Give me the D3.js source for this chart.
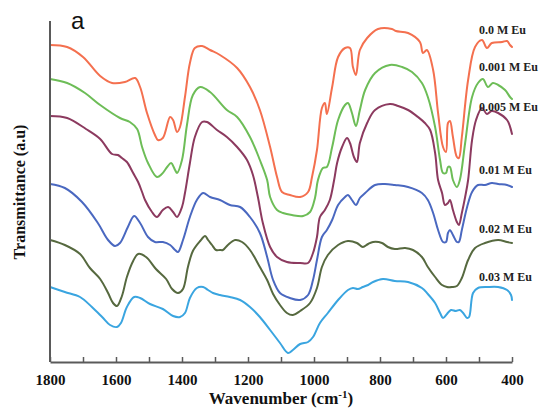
<!DOCTYPE html>
<html>
<head>
<meta charset="utf-8">
<script src="https://cdn.jsdelivr.net/npm/d3@7"></script>
<style>
html,body{margin:0;padding:0;background:#fff;}
svg{display:block;}
</style>
</head>
<body>
<svg id="chart" width="541" height="408"></svg>
<script>
// ---- data (wavenumber cm^-1, transmittance a.u.) ----
const xTicks = [1800, 1600, 1400, 1200, 1000, 800, 600, 400];
const seriesNames = ["0.0 M Eu", "0.001 M Eu", "0.005 M Eu", "0.01 M Eu", "0.02 M Eu", "0.03 M Eu"];
const seriesColors = ["#f4704f", "#6dbd57", "#8c3a5f", "#4a68c0", "#56693f", "#3aa5e0"];

const eu000 = [[1800,317],[1748,315],[1700,305],[1648,286],[1612,279],[1573,280],[1542,284],[1527,275],[1506,249],[1482,227],[1473,222],[1458,224],[1436,245],[1427,242],[1415,230],[1406,235],[1391,265],[1376,299],[1361,314],[1339,316],[1315,312],[1285,307],[1233,294],[1194,275],[1164,252],[1133,215],[1112,185],[1097,170],[1073,167],[1042,165],[1018,170],[1006,185],[991,212],[976,254],[967,259],[961,248],[945,275],[927,305],[906,314],[891,314],[882,295],[873,287],[861,312],[839,324],[806,333],[764,333],[752,331],[715,329],[679,320],[670,309],[658,312],[639,292],[624,249],[609,215],[600,210],[594,239],[588,241],[579,225],[567,205],[561,204],[552,225],[533,282],[512,315],[491,322],[476,314],[461,319],[430,320],[415,321],[406,317],[400,315]];
const eu001 = [[1800,283],[1748,279],[1694,269],[1648,257],[1588,244],[1558,240],[1536,233],[1521,215],[1503,199],[1476,185],[1461,188],[1445,195],[1433,199],[1421,192],[1415,189],[1400,202],[1385,237],[1367,267],[1345,275],[1315,270],[1264,252],[1233,245],[1194,225],[1164,202],[1142,182],[1133,165],[1112,152],[1094,149],[1067,147],[1033,146],[1012,150],[997,164],[988,182],[973,194],[961,195],[945,215],[927,242],[906,257],[897,259],[885,249],[873,236],[861,252],[845,272],[815,289],[770,297],[733,295],[703,290],[673,279],[655,265],[633,235],[618,202],[609,189],[600,189],[594,195],[588,195],[579,182],[567,175],[558,182],[542,219],[521,265],[503,279],[488,283],[473,275],[458,279],[442,277],[421,272],[406,265],[400,263]];
const eu005 = [[1800,246],[1748,244],[1691,233],[1648,223],[1612,208],[1594,207],[1582,204],[1567,200],[1548,189],[1533,180],[1521,170],[1512,162],[1491,150],[1476,145],[1458,152],[1442,155],[1427,150],[1415,145],[1400,155],[1391,169],[1376,199],[1361,225],[1339,240],[1324,240],[1294,232],[1264,225],[1233,215],[1203,202],[1185,187],[1170,165],[1155,139],[1133,115],[1112,105],[1082,100],[1042,99],[1018,99],[1003,109],[991,125],[982,145],[967,152],[952,162],[939,182],[930,199],[915,215],[900,224],[891,219],[879,205],[870,200],[861,219],[839,239],[815,252],[770,258],[745,256],[715,252],[685,245],[664,239],[648,232],[633,209],[624,182],[612,169],[603,157],[594,159],[588,162],[579,152],[567,140],[561,137],[552,149],[542,165],[533,182],[521,222],[509,242],[491,254],[476,248],[461,251],[442,249],[415,242],[400,228]];
const eu010 = [[1800,178],[1755,174],[1703,160],[1655,139],[1624,122],[1603,116],[1588,119],[1564,135],[1545,146],[1527,139],[1503,125],[1482,120],[1458,120],[1436,117],[1421,112],[1412,110],[1397,122],[1376,145],[1355,162],[1336,169],[1315,165],[1285,162],[1255,157],[1224,155],[1194,145],[1164,129],[1142,105],[1124,82],[1103,69],[1073,64],[1042,62],[1018,67],[1003,82],[991,102],[976,125],[961,132],[945,142],[927,157],[906,165],[897,167],[885,162],[873,157],[861,164],[845,169],[815,177],[785,178],[755,177],[715,175],[673,169],[655,162],[639,149],[624,132],[609,120],[600,120],[594,129],[588,132],[579,127],[567,120],[561,120],[552,132],[536,155],[521,170],[503,177],[482,177],[461,179],[442,178],[415,177],[400,175]];
const eu020 = [[1800,122],[1755,117],[1709,108],[1679,94],[1648,83],[1624,69],[1609,59],[1597,56],[1582,66],[1567,85],[1548,101],[1533,108],[1509,105],[1479,93],[1448,83],[1430,73],[1412,69],[1397,73],[1382,95],[1367,111],[1345,121],[1330,126],[1321,122],[1309,117],[1297,112],[1285,112],[1276,112],[1261,117],[1239,122],[1218,120],[1194,112],[1164,95],[1142,82],[1124,68],[1103,57],[1082,49],[1064,47],[1042,51],[1012,59],[991,74],[976,95],[958,107],[927,117],[897,121],[870,119],[852,115],[836,118],[821,120],[794,119],[776,115],[755,113],[724,114],[700,112],[673,105],[655,95],[633,85],[612,77],[597,75],[582,75],[567,76],[552,84],[533,102],[512,114],[482,119],[442,122],[415,120],[400,119]];
const eu030 = [[1800,75],[1755,70],[1709,65],[1673,55],[1642,45],[1618,37],[1597,35],[1585,39],[1567,55],[1545,65],[1527,64],[1497,58],[1458,53],[1427,46],[1406,45],[1391,49],[1376,64],[1355,74],[1336,75],[1321,72],[1306,69],[1285,67],[1255,65],[1224,62],[1194,55],[1164,45],[1133,32],[1103,19],[1079,9],[1064,12],[1042,18],[1018,20],[1003,25],[982,39],[958,49],[927,62],[897,72],[882,74],[867,73],[852,75],[836,77],[821,80],[791,83],[755,81],[715,80],[673,74],[655,68],[633,59],[618,49],[609,44],[597,48],[585,52],[570,51],[558,52],[548,49],[536,44],[530,45],[518,69],[503,74],[473,75],[442,75],[415,72],[403,67],[400,62]];
const seriesData = [eu000, eu001, eu005, eu010, eu020, eu030];
const labelY = [34, 71, 111, 174, 233, 281];

// ---- layout ----
const svg = d3.select("#chart");
const mLeft = 50, mRight = 512, mTop = 21, mBottom = 362;
const x = d3.scaleLinear().domain([1800, 400]).range([mLeft, mRight]);
const y = d3.scaleLinear().domain([0, 340]).range([mBottom, mBottom - 340]);

const serif = "'Liberation Serif','Times New Roman',serif";
const axisColor = "#5a5a5a";

// curves
const line = d3.line()
  .x(d => x(d[0]))
  .y(d => y(d[1]))
  .curve(d3.curveCatmullRom.alpha(0.5));

svg.append("g").selectAll("path")
  .data(seriesData)
  .join("path")
  .attr("d", d => line(d))
  .attr("fill", "none")
  .attr("stroke", (d, i) => seriesColors[i])
  .attr("stroke-width", 2)
  .attr("stroke-linejoin", "round")
  .attr("stroke-linecap", "round");

// x axis
const minorTicks = d3.range(1800, 399, -100);
const xAxis = d3.axisBottom(x)
  .tickValues(minorTicks)
  .tickSizeInner(-5)
  .tickSizeOuter(0)
  .tickFormat(d => xTicks.includes(d) ? d : "");
const gx = svg.append("g")
  .attr("transform", `translate(0,${mBottom})`)
  .call(xAxis);
gx.select(".domain").attr("stroke", axisColor).attr("stroke-width", 2);
gx.selectAll(".tick line").attr("stroke", axisColor).attr("stroke-width", 1.5);
gx.selectAll(".tick text")
  .attr("y", 12)
  .attr("fill", "#111")
  .style("font-family", serif)
  .style("font-weight", "bold")
  .style("font-size", "15px");

// y axis (line only)
const yAxis = d3.axisLeft(y).tickValues([]).tickSizeOuter(0);
const gy = svg.append("g")
  .attr("transform", `translate(${mLeft},0)`)
  .call(yAxis);
gy.select(".domain").attr("stroke", axisColor).attr("stroke-width", 2)
  .attr("d", `M0,${mBottom}V${mTop}`);

// axis titles
const xt = svg.append("text")
  .attr("x", 281).attr("y", 404)
  .attr("text-anchor", "middle")
  .style("font-family", serif).style("font-weight", "bold").style("font-size", "17px")
  .attr("fill", "#111");
xt.append("tspan").text("Wavenumber (cm");
xt.append("tspan").attr("dy", -6).style("font-size", "11px").text("-1");
xt.append("tspan").attr("dy", 6).text(")");

svg.append("text")
  .attr("transform", `translate(25,192) rotate(-90)`)
  .attr("text-anchor", "middle")
  .style("font-family", serif).style("font-weight", "bold").style("font-size", "16px")
  .attr("fill", "#111")
  .text("Transmittance (a.u)");

// panel letter
svg.append("text")
  .attr("x", 71).attr("y", 29)
  .style("font-family", "'Liberation Sans',Arial,sans-serif").style("font-size", "24px")
  .attr("fill", "#111")
  .text("a");

// series labels
svg.append("g").selectAll("text")
  .data(seriesNames)
  .join("text")
  .attr("x", 479)
  .attr("y", (d, i) => labelY[i])
  .style("font-family", serif).style("font-weight", "bold").style("font-size", "12px")
  .attr("fill", "#222")
  .text(d => d);
</script>
</body>
</html>
